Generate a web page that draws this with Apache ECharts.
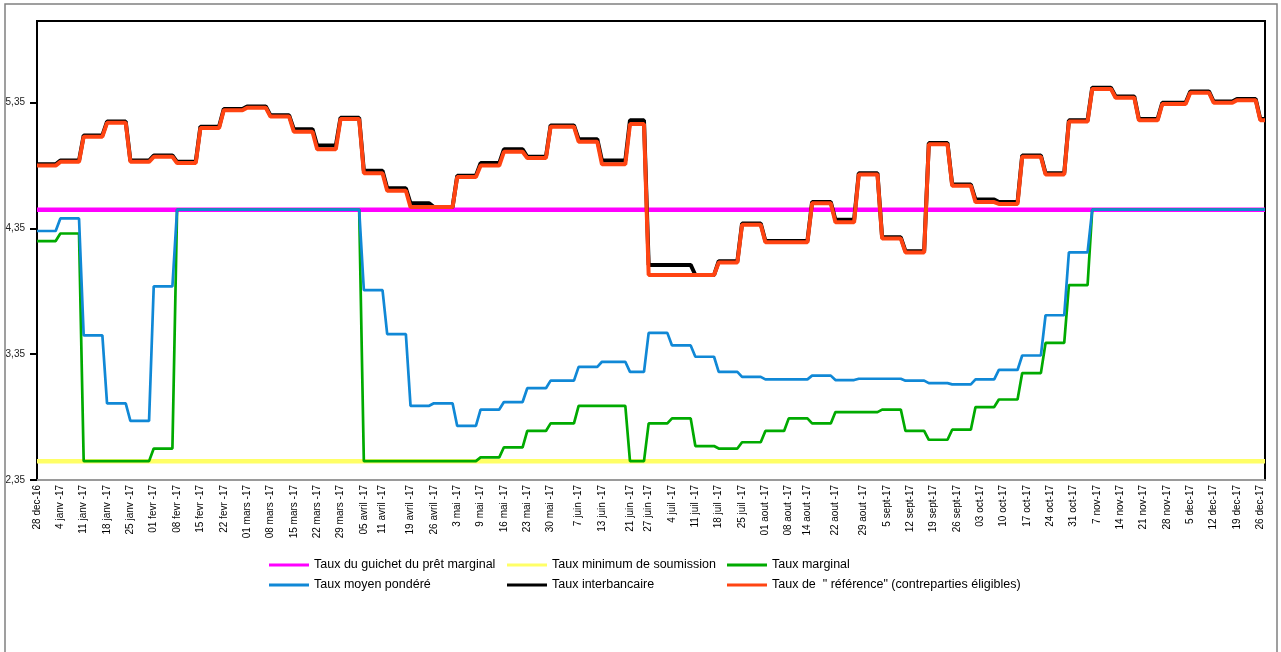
<!DOCTYPE html>
<html>
<head>
<meta charset="utf-8">
<script src="https://cdn.jsdelivr.net/npm/echarts@6/dist/echarts.min.js"></script>
<style>
html,body{margin:0;padding:0;background:#fff;}
#chart{width:1281px;height:652px;}
</style>
</head>
<body>
<div id="chart"></div>
<script>
// Category positions (business-day slots) and the dated tick labels
const slotCount = 264;
const tickIdx = [0,5,10,15,20,25,30,35,40,45,50,55,60,65,70,74,80,85,90,95,100,105,110,116,121,127,131,136,141,146,151,156,161,165,171,177,182,187,192,197,202,207,212,217,222,227,232,237,242,247,252,257,262];
const tickLabels = ["28 dec-16","4 janv -17","11 janv -17","18 janv -17","25 janv -17","01 fevr -17","08 fevr -17","15 fevr -17","22 fevr -17","01 mars -17","08 mars -17","15 mars -17","22 mars -17","29 mars -17","05 avril -17","11 avril -17","19 avril -17","26 avril -17","3 mai -17","9 mai -17","16 mai -17","23 mai -17","30 mai -17","7 juin -17","13 juin -17","21 juin -17","27 juin -17","4 juil -17","11 juil -17","18 juil -17","25 juil -17","01 aout -17","08 aout -17","14 aout -17","22 aout -17","29 aout -17","5 sept-17","12 sept-17","19 sept-17","26 sept-17","03 oct-17","10 oct-17","17 oct-17","24 oct-17","31 oct-17","7 nov-17","14 nov-17","21 nov-17","28 nov-17","5 dec-17","12 dec-17","19 dec-17","26 dec-17"];

// Series: [slot where the new rate starts, rate]
const guichetSteps = [[0,4.5]];
const minimumSteps = [[0,2.5]];
const marginalSteps = [[0,4.25],[5,4.31],[10,2.5],[25,2.60],[30,4.5],[70,2.5],[95,2.53],[100,2.61],[105,2.74],[110,2.80],[116,2.94],[127,2.5],[131,2.80],[136,2.84],[141,2.62],[146,2.60],[151,2.65],[156,2.74],[161,2.84],[166,2.80],[171,2.89],[181,2.91],[186,2.74],[191,2.67],[196,2.75],[201,2.93],[206,2.99],[211,3.20],[216,3.44],[221,3.90],[226,4.5]];
const moyenSteps = [[0,4.33],[5,4.43],[10,3.50],[15,2.96],[20,2.82],[25,3.89],[30,4.5],[70,3.86],[75,3.51],[80,2.94],[85,2.96],[90,2.78],[95,2.91],[100,2.97],[105,3.08],[110,3.14],[116,3.25],[121,3.29],[127,3.21],[131,3.52],[136,3.42],[141,3.33],[146,3.21],[151,3.17],[156,3.15],[166,3.18],[171,3.145],[176,3.155],[186,3.14],[191,3.12],[196,3.11],[201,3.15],[206,3.225],[211,3.34],[216,3.66],[221,4.16],[226,4.5]];
const interbancaireSteps = [[0,4.86],[5,4.89],[10,5.09],[15,5.20],[20,4.89],[25,4.93],[30,4.88],[35,5.16],[40,5.30],[45,5.32],[50,5.25],[55,5.14],[60,5.01],[65,5.23],[70,4.81],[75,4.67],[80,4.55],[85,4.52],[90,4.77],[95,4.87],[100,4.98],[105,4.92],[110,5.17],[116,5.06],[121,4.89],[127,5.21],[131,4.06],[141,3.98],[146,4.09],[151,4.39],[156,4.25],[166,4.56],[171,4.42],[176,4.79],[181,4.28],[186,4.17],[191,5.03],[196,4.70],[201,4.58],[206,4.56],[211,4.93],[216,4.79],[221,5.21],[226,5.47],[231,5.40],[236,5.22],[241,5.35],[247,5.44],[252,5.36],[257,5.38],[262,5.22]];
const referenceSteps = [[0,4.85],[5,4.88],[10,5.08],[15,5.19],[20,4.88],[25,4.92],[30,4.87],[35,5.15],[40,5.29],[45,5.31],[50,5.24],[55,5.12],[60,4.98],[65,5.22],[70,4.79],[75,4.65],[80,4.52],[90,4.76],[95,4.85],[100,4.96],[105,4.91],[110,5.16],[116,5.04],[121,4.86],[127,5.18],[131,3.98],[146,4.08],[151,4.38],[156,4.24],[166,4.55],[171,4.40],[176,4.78],[181,4.27],[186,4.16],[191,5.02],[196,4.69],[201,4.56],[206,4.545],[211,4.92],[216,4.78],[221,5.20],[226,5.46],[231,5.39],[236,5.21],[241,5.34],[247,5.43],[252,5.35],[257,5.37],[262,5.21]];

const names = {
  guichet: 'Taux du guichet du prêt marginal',
  minimum: 'Taux minimum de soumission',
  marginal: 'Taux marginal',
  moyen: 'Taux moyen pondéré',
  interbancaire: 'Taux interbancaire',
  reference: 'Taux de  " référence" (contreparties éligibles)'
};

// build the per-slot table the category axis needs (rate held until next change)
function holdSteps(steps){
  const out = [];
  let k = 0;
  for (let i = 0; i < slotCount; i++) {
    while (k + 1 < steps.length && steps[k+1][0] <= i) k++;
    out.push(steps[k][1]);
  }
  return out;
}
const categories = [];
for (let i = 0; i < slotCount; i++) categories.push(String(i));
const labelMap = {};
tickIdx.forEach((ix, j) => { labelMap[ix] = tickLabels[j]; });

const FONT = '"Liberation Sans", Arial, sans-serif';

function lineSeries(name, steps, color, width){
  return {
    name: name, type: 'line', data: holdSteps(steps),
    showSymbol: false, symbol: 'none', color: color,
    lineStyle: {color: color, width: width},
    emphasis: {disabled: true}, animation: false
  };
}

const chart = echarts.init(document.getElementById('chart'), null, {renderer: 'canvas'});
const legendCommon = {
  orient: 'vertical', icon: 'rect', itemWidth: 40, itemHeight: 3, itemGap: 4, padding: 0,
  textStyle: {fontFamily: FONT, fontSize: 12.5, color: '#000', lineHeight: 16},
  selectedMode: false
};
chart.setOption({
  animation: false,
  backgroundColor: '#fff',
  graphic: [{
    type: 'rect', shape: {x: 5, y: 4, width: 1272, height: 700},
    style: {fill: 'none', stroke: '#808080', lineWidth: 1.5}, silent: true, z: -1
  }],
  grid: {left: 37, right: 16, top: 21, bottom: 172, show: true, borderColor: '#000', borderWidth: 2},
  legend: [
    Object.assign({left: 269, top: 557, data: [names.guichet, names.moyen]}, legendCommon),
    Object.assign({left: 507, top: 557, data: [names.minimum, names.interbancaire]}, legendCommon),
    Object.assign({left: 727, top: 557, data: [names.marginal, names.reference]}, legendCommon)
  ],
  xAxis: {
    type: 'category', data: categories, boundaryGap: false,
    axisLine: {lineStyle: {color: '#9a9a9a', width: 2}},
    axisTick: {show: false},
    splitLine: {show: false},
    axisLabel: {
      rotate: 90, margin: 5, fontSize: 10, fontFamily: FONT, color: '#000',
      interval: function(i){ return labelMap[i] !== undefined; },
      formatter: function(v, i){ return labelMap[i] || ''; }
    }
  },
  yAxis: {
    type: 'value', min: 2.35, max: 6.0, interval: 1,
    axisLine: {show: true, lineStyle: {color: '#000', width: 2}},
    axisTick: {show: true, length: 7, lineStyle: {color: '#000', width: 2}},
    splitLine: {show: false},
    axisLabel: {
      margin: 12, fontSize: 10, fontFamily: FONT, color: '#222', showMaxLabel: false,
      formatter: function(v){ return v.toFixed(2).replace('.', ','); }
    }
  },
  series: [
    lineSeries(names.guichet, guichetSteps, '#ff00ff', 4.5),
    lineSeries(names.minimum, minimumSteps, '#ffff66', 4.5),
    lineSeries(names.marginal, marginalSteps, '#00aa00', 2.7),
    lineSeries(names.moyen, moyenSteps, '#1088d6', 2.7),
    lineSeries(names.interbancaire, interbancaireSteps, '#000000', 4),
    lineSeries(names.reference, referenceSteps, '#ff4412', 4)
  ]
});
</script>
</body>
</html>
